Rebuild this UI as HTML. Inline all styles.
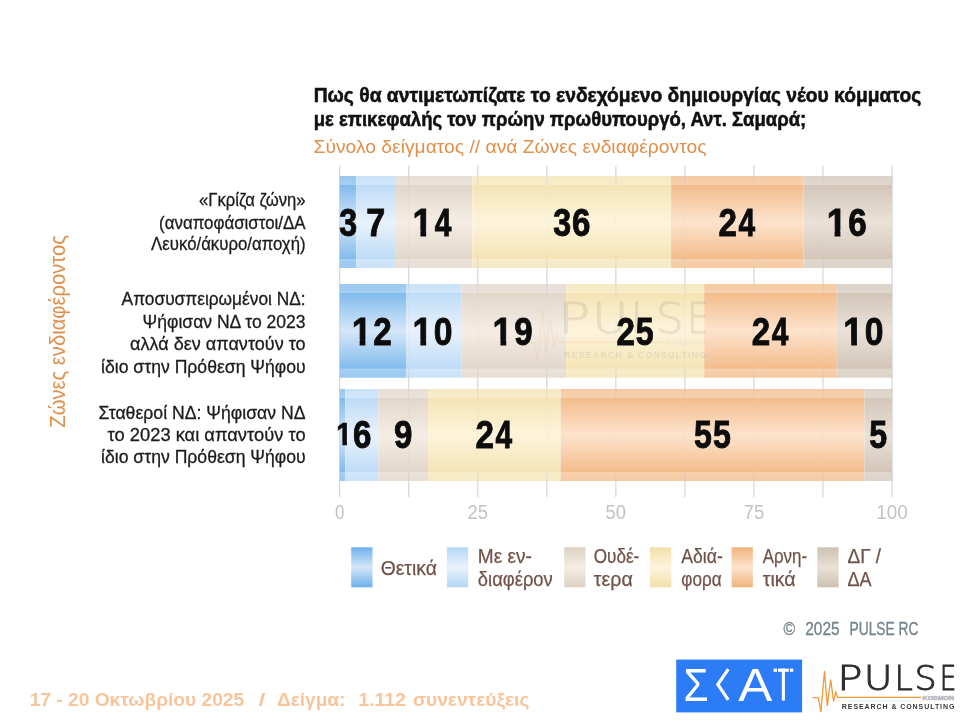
<!DOCTYPE html>
<html lang="el"><head><meta charset="utf-8"><title>PULSE RC</title>
<style>html,body{margin:0;padding:0;background:#fff}body{width:973px;height:728px;overflow:hidden}svg{display:block}text{font-family:"Liberation Sans",sans-serif}.b{font-weight:bold}.lg{font-family:"DejaVu Sans Light","DejaVu Sans",sans-serif;font-weight:200}</style></head><body>
<svg width="973" height="728" viewBox="0 0 973 728">
<defs>
<linearGradient id="g0" x1="0" y1="0" x2="0" y2="1"><stop offset="0" stop-color="#6cb0ea"/><stop offset="0.5" stop-color="#d6e7f8"/><stop offset="1" stop-color="#6cb0ea"/></linearGradient>
<linearGradient id="g1" x1="0" y1="0" x2="0" y2="1"><stop offset="0" stop-color="#b3d6f5"/><stop offset="0.5" stop-color="#e9f2fc"/><stop offset="1" stop-color="#b3d6f5"/></linearGradient>
<linearGradient id="g2" x1="0" y1="0" x2="0" y2="1"><stop offset="0" stop-color="#ddd1c4"/><stop offset="0.5" stop-color="#f5ede4"/><stop offset="1" stop-color="#ddd1c4"/></linearGradient>
<linearGradient id="g3" x1="0" y1="0" x2="0" y2="1"><stop offset="0" stop-color="#f2e0ab"/><stop offset="0.5" stop-color="#fdf4dc"/><stop offset="1" stop-color="#f2e0ab"/></linearGradient>
<linearGradient id="g4" x1="0" y1="0" x2="0" y2="1"><stop offset="0" stop-color="#f1b37c"/><stop offset="0.5" stop-color="#fde3cd"/><stop offset="1" stop-color="#f1b37c"/></linearGradient>
<linearGradient id="g5" x1="0" y1="0" x2="0" y2="1"><stop offset="0" stop-color="#cdc0b2"/><stop offset="0.5" stop-color="#eae1d7"/><stop offset="1" stop-color="#cdc0b2"/></linearGradient>
<g id="pulse">
<polyline fill="none" stroke="#f09a3a" stroke-width="1.3" stroke-linejoin="miter" points="-29.2,33.5 -23.4,33.7 -20.9,47.9 -17.3,6.9 -14.5,41.7 -11.1,15.4 -8.2,37.2 -6,27.9 -4.2,33.2 79.6,33.2"/>
<text y="25.6" font-size="34.4" class="lg" fill="#2d2d2f" stroke="#2d2d2f" stroke-width="0.9"><tspan x="-4.67" textLength="25.3" lengthAdjust="spacingAndGlyphs">P</tspan><tspan x="22.05" textLength="28.8" lengthAdjust="spacingAndGlyphs">U</tspan><tspan x="52.63" textLength="18.35" lengthAdjust="spacingAndGlyphs">L</tspan><tspan x="72.75" textLength="22.15" lengthAdjust="spacingAndGlyphs">S</tspan><tspan x="97.84" textLength="16.66" lengthAdjust="spacingAndGlyphs">E</tspan></text>
<text x="80.8" y="35.6" font-size="5.6" fill="#b4b7be" stroke="#b4b7be" stroke-width="0.5" class="b" textLength="31.5" lengthAdjust="spacingAndGlyphs">KOSMON</text>
<text x="0" y="45.2" font-size="7" fill="#3a3a3c" class="b" textLength="112.6" lengthAdjust="spacing">RESEARCH &amp; CONSULTING</text>
</g>
<clipPath id="c1"><path d="M-5,-45H60V6H20.5V-5.3H13.62V3H7.93V-5.3H-5Z"/></clipPath>
</defs>
<rect width="973" height="728" fill="#fff"/>
<text x="313.7" y="102" font-size="20.3" fill="#111" text-anchor="start" class="b" textLength="607.5" lengthAdjust="spacingAndGlyphs" stroke="#111" stroke-width="0.55">Πως θα αντιμετωπίζατε το ενδεχόμενο δημιουργίας νέου κόμματος</text>
<text x="313.7" y="125.8" font-size="20.3" fill="#111" text-anchor="start" class="b" textLength="492.5" lengthAdjust="spacingAndGlyphs" stroke="#111" stroke-width="0.55">με επικεφαλής τον πρώην πρωθυπουργό, Αντ. Σαμαρά;</text>
<text x="313.5" y="153.3" font-size="19" fill="#e0904a" text-anchor="start" textLength="393" lengthAdjust="spacingAndGlyphs">Σύνολο δείγματος // ανά Ζώνες ενδιαφέροντος</text>
<rect x="339.05" y="165.5" width="1.3" height="331.5" fill="#d7d9dc"/>
<rect x="408.09" y="165.5" width="1.3" height="331.5" fill="#d7d9dc"/>
<rect x="477.12" y="165.5" width="1.3" height="331.5" fill="#d7d9dc"/>
<rect x="546.16" y="165.5" width="1.3" height="331.5" fill="#d7d9dc"/>
<rect x="615.20" y="165.5" width="1.3" height="331.5" fill="#d7d9dc"/>
<rect x="684.24" y="165.5" width="1.3" height="331.5" fill="#d7d9dc"/>
<rect x="753.27" y="165.5" width="1.3" height="331.5" fill="#d7d9dc"/>
<rect x="822.31" y="165.5" width="1.3" height="331.5" fill="#d7d9dc"/>
<rect x="891.35" y="165.5" width="1.3" height="331.5" fill="#d7d9dc"/>
<rect x="339.70" y="176.0" width="16.57" height="92.0" fill="url(#g0)"/>
<rect x="356.27" y="176.0" width="38.66" height="92.0" fill="url(#g1)"/>
<rect x="394.93" y="176.0" width="77.32" height="92.0" fill="url(#g2)"/>
<rect x="472.25" y="176.0" width="198.83" height="92.0" fill="url(#g3)"/>
<rect x="671.08" y="176.0" width="132.55" height="92.0" fill="url(#g4)"/>
<rect x="803.63" y="176.0" width="88.37" height="92.0" fill="url(#g5)"/>
<rect x="339.7" y="176.0" width="552.3" height="9" fill="#fff" fill-opacity="0.3"/>
<rect x="339.7" y="259.0" width="552.3" height="9" fill="#fff" fill-opacity="0.3"/>
<rect x="339.70" y="284.0" width="66.28" height="93.6" fill="url(#g0)"/>
<rect x="405.98" y="284.0" width="55.23" height="93.6" fill="url(#g1)"/>
<rect x="461.21" y="284.0" width="104.94" height="93.6" fill="url(#g2)"/>
<rect x="566.14" y="284.0" width="138.07" height="93.6" fill="url(#g3)"/>
<rect x="704.22" y="284.0" width="132.55" height="93.6" fill="url(#g4)"/>
<rect x="836.77" y="284.0" width="55.23" height="93.6" fill="url(#g5)"/>
<rect x="339.7" y="284.0" width="552.3" height="9" fill="#fff" fill-opacity="0.3"/>
<rect x="339.7" y="368.6" width="552.3" height="9" fill="#fff" fill-opacity="0.3"/>
<rect x="339.70" y="389.0" width="5.52" height="92.0" fill="url(#g0)"/>
<rect x="345.22" y="389.0" width="33.14" height="92.0" fill="url(#g1)"/>
<rect x="378.36" y="389.0" width="49.71" height="92.0" fill="url(#g2)"/>
<rect x="428.07" y="389.0" width="132.55" height="92.0" fill="url(#g3)"/>
<rect x="560.62" y="389.0" width="303.76" height="92.0" fill="url(#g4)"/>
<rect x="864.38" y="389.0" width="27.62" height="92.0" fill="url(#g5)"/>
<rect x="339.7" y="389.0" width="552.3" height="9" fill="#fff" fill-opacity="0.3"/>
<rect x="339.7" y="472.0" width="552.3" height="9" fill="#fff" fill-opacity="0.3"/>
<rect x="339.05" y="176.0" width="1.3" height="92.0" fill="#c4c8d0" fill-opacity="0.09"/>
<rect x="339.05" y="176.0" width="1.3" height="9" fill="#c4c8d0" fill-opacity="0.26"/>
<rect x="339.05" y="259.0" width="1.3" height="9" fill="#c4c8d0" fill-opacity="0.26"/>
<rect x="339.05" y="284.0" width="1.3" height="93.6" fill="#c4c8d0" fill-opacity="0.09"/>
<rect x="339.05" y="284.0" width="1.3" height="9" fill="#c4c8d0" fill-opacity="0.26"/>
<rect x="339.05" y="368.6" width="1.3" height="9" fill="#c4c8d0" fill-opacity="0.26"/>
<rect x="339.05" y="389.0" width="1.3" height="92.0" fill="#c4c8d0" fill-opacity="0.09"/>
<rect x="339.05" y="389.0" width="1.3" height="9" fill="#c4c8d0" fill-opacity="0.26"/>
<rect x="339.05" y="472.0" width="1.3" height="9" fill="#c4c8d0" fill-opacity="0.26"/>
<rect x="408.09" y="176.0" width="1.3" height="92.0" fill="#c4c8d0" fill-opacity="0.09"/>
<rect x="408.09" y="176.0" width="1.3" height="9" fill="#c4c8d0" fill-opacity="0.26"/>
<rect x="408.09" y="259.0" width="1.3" height="9" fill="#c4c8d0" fill-opacity="0.26"/>
<rect x="408.09" y="284.0" width="1.3" height="93.6" fill="#c4c8d0" fill-opacity="0.09"/>
<rect x="408.09" y="284.0" width="1.3" height="9" fill="#c4c8d0" fill-opacity="0.26"/>
<rect x="408.09" y="368.6" width="1.3" height="9" fill="#c4c8d0" fill-opacity="0.26"/>
<rect x="408.09" y="389.0" width="1.3" height="92.0" fill="#c4c8d0" fill-opacity="0.09"/>
<rect x="408.09" y="389.0" width="1.3" height="9" fill="#c4c8d0" fill-opacity="0.26"/>
<rect x="408.09" y="472.0" width="1.3" height="9" fill="#c4c8d0" fill-opacity="0.26"/>
<rect x="477.12" y="176.0" width="1.3" height="92.0" fill="#c4c8d0" fill-opacity="0.09"/>
<rect x="477.12" y="176.0" width="1.3" height="9" fill="#c4c8d0" fill-opacity="0.26"/>
<rect x="477.12" y="259.0" width="1.3" height="9" fill="#c4c8d0" fill-opacity="0.26"/>
<rect x="477.12" y="284.0" width="1.3" height="93.6" fill="#c4c8d0" fill-opacity="0.09"/>
<rect x="477.12" y="284.0" width="1.3" height="9" fill="#c4c8d0" fill-opacity="0.26"/>
<rect x="477.12" y="368.6" width="1.3" height="9" fill="#c4c8d0" fill-opacity="0.26"/>
<rect x="477.12" y="389.0" width="1.3" height="92.0" fill="#c4c8d0" fill-opacity="0.09"/>
<rect x="477.12" y="389.0" width="1.3" height="9" fill="#c4c8d0" fill-opacity="0.26"/>
<rect x="477.12" y="472.0" width="1.3" height="9" fill="#c4c8d0" fill-opacity="0.26"/>
<rect x="546.16" y="176.0" width="1.3" height="92.0" fill="#c4c8d0" fill-opacity="0.09"/>
<rect x="546.16" y="176.0" width="1.3" height="9" fill="#c4c8d0" fill-opacity="0.26"/>
<rect x="546.16" y="259.0" width="1.3" height="9" fill="#c4c8d0" fill-opacity="0.26"/>
<rect x="546.16" y="284.0" width="1.3" height="93.6" fill="#c4c8d0" fill-opacity="0.09"/>
<rect x="546.16" y="284.0" width="1.3" height="9" fill="#c4c8d0" fill-opacity="0.26"/>
<rect x="546.16" y="368.6" width="1.3" height="9" fill="#c4c8d0" fill-opacity="0.26"/>
<rect x="546.16" y="389.0" width="1.3" height="92.0" fill="#c4c8d0" fill-opacity="0.09"/>
<rect x="546.16" y="389.0" width="1.3" height="9" fill="#c4c8d0" fill-opacity="0.26"/>
<rect x="546.16" y="472.0" width="1.3" height="9" fill="#c4c8d0" fill-opacity="0.26"/>
<rect x="615.20" y="176.0" width="1.3" height="92.0" fill="#c4c8d0" fill-opacity="0.09"/>
<rect x="615.20" y="176.0" width="1.3" height="9" fill="#c4c8d0" fill-opacity="0.26"/>
<rect x="615.20" y="259.0" width="1.3" height="9" fill="#c4c8d0" fill-opacity="0.26"/>
<rect x="615.20" y="284.0" width="1.3" height="93.6" fill="#c4c8d0" fill-opacity="0.09"/>
<rect x="615.20" y="284.0" width="1.3" height="9" fill="#c4c8d0" fill-opacity="0.26"/>
<rect x="615.20" y="368.6" width="1.3" height="9" fill="#c4c8d0" fill-opacity="0.26"/>
<rect x="615.20" y="389.0" width="1.3" height="92.0" fill="#c4c8d0" fill-opacity="0.09"/>
<rect x="615.20" y="389.0" width="1.3" height="9" fill="#c4c8d0" fill-opacity="0.26"/>
<rect x="615.20" y="472.0" width="1.3" height="9" fill="#c4c8d0" fill-opacity="0.26"/>
<rect x="684.24" y="176.0" width="1.3" height="92.0" fill="#c4c8d0" fill-opacity="0.09"/>
<rect x="684.24" y="176.0" width="1.3" height="9" fill="#c4c8d0" fill-opacity="0.26"/>
<rect x="684.24" y="259.0" width="1.3" height="9" fill="#c4c8d0" fill-opacity="0.26"/>
<rect x="684.24" y="284.0" width="1.3" height="93.6" fill="#c4c8d0" fill-opacity="0.09"/>
<rect x="684.24" y="284.0" width="1.3" height="9" fill="#c4c8d0" fill-opacity="0.26"/>
<rect x="684.24" y="368.6" width="1.3" height="9" fill="#c4c8d0" fill-opacity="0.26"/>
<rect x="684.24" y="389.0" width="1.3" height="92.0" fill="#c4c8d0" fill-opacity="0.09"/>
<rect x="684.24" y="389.0" width="1.3" height="9" fill="#c4c8d0" fill-opacity="0.26"/>
<rect x="684.24" y="472.0" width="1.3" height="9" fill="#c4c8d0" fill-opacity="0.26"/>
<rect x="753.27" y="176.0" width="1.3" height="92.0" fill="#c4c8d0" fill-opacity="0.09"/>
<rect x="753.27" y="176.0" width="1.3" height="9" fill="#c4c8d0" fill-opacity="0.26"/>
<rect x="753.27" y="259.0" width="1.3" height="9" fill="#c4c8d0" fill-opacity="0.26"/>
<rect x="753.27" y="284.0" width="1.3" height="93.6" fill="#c4c8d0" fill-opacity="0.09"/>
<rect x="753.27" y="284.0" width="1.3" height="9" fill="#c4c8d0" fill-opacity="0.26"/>
<rect x="753.27" y="368.6" width="1.3" height="9" fill="#c4c8d0" fill-opacity="0.26"/>
<rect x="753.27" y="389.0" width="1.3" height="92.0" fill="#c4c8d0" fill-opacity="0.09"/>
<rect x="753.27" y="389.0" width="1.3" height="9" fill="#c4c8d0" fill-opacity="0.26"/>
<rect x="753.27" y="472.0" width="1.3" height="9" fill="#c4c8d0" fill-opacity="0.26"/>
<rect x="822.31" y="176.0" width="1.3" height="92.0" fill="#c4c8d0" fill-opacity="0.09"/>
<rect x="822.31" y="176.0" width="1.3" height="9" fill="#c4c8d0" fill-opacity="0.26"/>
<rect x="822.31" y="259.0" width="1.3" height="9" fill="#c4c8d0" fill-opacity="0.26"/>
<rect x="822.31" y="284.0" width="1.3" height="93.6" fill="#c4c8d0" fill-opacity="0.09"/>
<rect x="822.31" y="284.0" width="1.3" height="9" fill="#c4c8d0" fill-opacity="0.26"/>
<rect x="822.31" y="368.6" width="1.3" height="9" fill="#c4c8d0" fill-opacity="0.26"/>
<rect x="822.31" y="389.0" width="1.3" height="92.0" fill="#c4c8d0" fill-opacity="0.09"/>
<rect x="822.31" y="389.0" width="1.3" height="9" fill="#c4c8d0" fill-opacity="0.26"/>
<rect x="822.31" y="472.0" width="1.3" height="9" fill="#c4c8d0" fill-opacity="0.26"/>
<rect x="891.35" y="176.0" width="1.3" height="92.0" fill="#c4c8d0" fill-opacity="0.09"/>
<rect x="891.35" y="176.0" width="1.3" height="9" fill="#c4c8d0" fill-opacity="0.26"/>
<rect x="891.35" y="259.0" width="1.3" height="9" fill="#c4c8d0" fill-opacity="0.26"/>
<rect x="891.35" y="284.0" width="1.3" height="93.6" fill="#c4c8d0" fill-opacity="0.09"/>
<rect x="891.35" y="284.0" width="1.3" height="9" fill="#c4c8d0" fill-opacity="0.26"/>
<rect x="891.35" y="368.6" width="1.3" height="9" fill="#c4c8d0" fill-opacity="0.26"/>
<rect x="891.35" y="389.0" width="1.3" height="92.0" fill="#c4c8d0" fill-opacity="0.09"/>
<rect x="891.35" y="389.0" width="1.3" height="9" fill="#c4c8d0" fill-opacity="0.26"/>
<rect x="891.35" y="472.0" width="1.3" height="9" fill="#c4c8d0" fill-opacity="0.26"/>
<use href="#pulse" transform="translate(564.2,300.6) scale(1.26)" opacity="0.09"/>
<text transform="translate(339.25,235.70)" font-size="39" fill="#0c0c0c" stroke="#0c0c0c" stroke-width="0.9" class="b"><tspan x="0.00" textLength="17.90" lengthAdjust="spacingAndGlyphs">3</tspan></text>
<text transform="translate(366.13,235.70)" font-size="39" fill="#0c0c0c" stroke="#0c0c0c" stroke-width="0.9" class="b"><tspan x="0.00" textLength="18.96" lengthAdjust="spacingAndGlyphs">7</tspan></text>
<text transform="translate(412.50,235.70)" font-size="39" fill="#0c0c0c" stroke="#0c0c0c" stroke-width="0.9" class="b" clip-path="url(#c1)"><tspan x="0.00" textLength="19.87" lengthAdjust="spacingAndGlyphs">1</tspan><tspan x="22.24" textLength="16.61" lengthAdjust="spacingAndGlyphs">4</tspan></text>
<text transform="translate(553.33,235.70)" font-size="39" fill="#0c0c0c" stroke="#0c0c0c" stroke-width="0.9" class="b"><tspan x="0.00" textLength="17.90" lengthAdjust="spacingAndGlyphs">3</tspan><tspan x="18.73" textLength="18.41" lengthAdjust="spacingAndGlyphs">6</tspan></text>
<text transform="translate(718.60,235.70)" font-size="39" fill="#0c0c0c" stroke="#0c0c0c" stroke-width="0.9" class="b"><tspan x="0.00" textLength="18.48" lengthAdjust="spacingAndGlyphs">2</tspan><tspan x="19.90" textLength="16.61" lengthAdjust="spacingAndGlyphs">4</tspan></text>
<text transform="translate(826.72,235.70)" font-size="39" fill="#0c0c0c" stroke="#0c0c0c" stroke-width="0.9" class="b" clip-path="url(#c1)"><tspan x="0.00" textLength="19.87" lengthAdjust="spacingAndGlyphs">1</tspan><tspan x="21.48" textLength="18.41" lengthAdjust="spacingAndGlyphs">6</tspan></text>
<text transform="translate(351.75,344.70)" font-size="39" fill="#0c0c0c" stroke="#0c0c0c" stroke-width="0.9" class="b" clip-path="url(#c1)"><tspan x="0.00" textLength="19.87" lengthAdjust="spacingAndGlyphs">1</tspan><tspan x="21.54" textLength="18.48" lengthAdjust="spacingAndGlyphs">2</tspan></text>
<text transform="translate(412.50,344.70)" font-size="39" fill="#0c0c0c" stroke="#0c0c0c" stroke-width="0.9" class="b" clip-path="url(#c1)"><tspan x="0.00" textLength="19.87" lengthAdjust="spacingAndGlyphs">1</tspan><tspan x="21.36" textLength="18.71" lengthAdjust="spacingAndGlyphs">0</tspan></text>
<text transform="translate(492.58,344.70)" font-size="39" fill="#0c0c0c" stroke="#0c0c0c" stroke-width="0.9" class="b" clip-path="url(#c1)"><tspan x="0.00" textLength="19.87" lengthAdjust="spacingAndGlyphs">1</tspan><tspan x="21.55" textLength="18.37" lengthAdjust="spacingAndGlyphs">9</tspan></text>
<text transform="translate(616.43,344.70)" font-size="39" fill="#0c0c0c" stroke="#0c0c0c" stroke-width="0.9" class="b"><tspan x="0.00" textLength="18.48" lengthAdjust="spacingAndGlyphs">2</tspan><tspan x="19.36" textLength="17.88" lengthAdjust="spacingAndGlyphs">5</tspan></text>
<text transform="translate(751.74,344.70)" font-size="39" fill="#0c0c0c" stroke="#0c0c0c" stroke-width="0.9" class="b"><tspan x="0.00" textLength="18.48" lengthAdjust="spacingAndGlyphs">2</tspan><tspan x="19.90" textLength="16.61" lengthAdjust="spacingAndGlyphs">4</tspan></text>
<text transform="translate(843.29,344.70)" font-size="39" fill="#0c0c0c" stroke="#0c0c0c" stroke-width="0.9" class="b" clip-path="url(#c1)"><tspan x="0.00" textLength="19.87" lengthAdjust="spacingAndGlyphs">1</tspan><tspan x="21.36" textLength="18.71" lengthAdjust="spacingAndGlyphs">0</tspan></text>
<text transform="translate(336.27,445.05) scale(0.7821)" font-size="39" fill="#0c0c0c" stroke="#0c0c0c" stroke-width="0.9" class="b" clip-path="url(#c1)"><tspan x="0.00" textLength="19.87" lengthAdjust="spacingAndGlyphs">1</tspan></text>
<text transform="translate(352.88,448.00)" font-size="39" fill="#0c0c0c" stroke="#0c0c0c" stroke-width="0.9" class="b"><tspan x="0.00" textLength="18.41" lengthAdjust="spacingAndGlyphs">6</tspan></text>
<text transform="translate(394.07,448.00)" font-size="39" fill="#0c0c0c" stroke="#0c0c0c" stroke-width="0.9" class="b"><tspan x="0.00" textLength="18.37" lengthAdjust="spacingAndGlyphs">9</tspan></text>
<text transform="translate(475.59,448.00)" font-size="39" fill="#0c0c0c" stroke="#0c0c0c" stroke-width="0.9" class="b"><tspan x="0.00" textLength="18.48" lengthAdjust="spacingAndGlyphs">2</tspan><tspan x="19.90" textLength="16.61" lengthAdjust="spacingAndGlyphs">4</tspan></text>
<text transform="translate(693.91,448.00)" font-size="39" fill="#0c0c0c" stroke="#0c0c0c" stroke-width="0.9" class="b"><tspan x="0.00" textLength="17.88" lengthAdjust="spacingAndGlyphs">5</tspan><tspan x="19.20" textLength="17.88" lengthAdjust="spacingAndGlyphs">5</tspan></text>
<text transform="translate(869.20,448.00)" font-size="39" fill="#0c0c0c" stroke="#0c0c0c" stroke-width="0.9" class="b"><tspan x="0.00" textLength="17.88" lengthAdjust="spacingAndGlyphs">5</tspan></text>
<text x="339.7" y="519" font-size="19.4" fill="#c3c3c3" text-anchor="middle" textLength="9.5" lengthAdjust="spacingAndGlyphs">0</text>
<text x="477.8" y="519" font-size="19.4" fill="#c3c3c3" text-anchor="middle" textLength="20.4" lengthAdjust="spacingAndGlyphs">25</text>
<text x="615.8" y="519" font-size="19.4" fill="#c3c3c3" text-anchor="middle" textLength="20.4" lengthAdjust="spacingAndGlyphs">50</text>
<text x="753.9" y="519" font-size="19.4" fill="#c3c3c3" text-anchor="middle" textLength="20.4" lengthAdjust="spacingAndGlyphs">75</text>
<text x="892.0" y="519" font-size="19.4" fill="#c3c3c3" text-anchor="middle" textLength="31.5" lengthAdjust="spacingAndGlyphs">100</text>
<text x="305.6" y="205.89999999999998" font-size="18.8" fill="#1c1c1c" text-anchor="end" textLength="106.5" lengthAdjust="spacingAndGlyphs" stroke="#1c1c1c" stroke-width="0.3">«Γκρίζα ζώνη»</text>
<text x="305.6" y="228.6" font-size="18.8" fill="#1c1c1c" text-anchor="end" textLength="146.5" lengthAdjust="spacingAndGlyphs" stroke="#1c1c1c" stroke-width="0.3">(αναποφάσιστοι/ΔΑ</text>
<text x="305.6" y="250.29999999999998" font-size="18.8" fill="#1c1c1c" text-anchor="end" textLength="154.5" lengthAdjust="spacingAndGlyphs" stroke="#1c1c1c" stroke-width="0.3">Λευκό/άκυρο/αποχή)</text>
<text x="305.6" y="304.9" font-size="18.8" fill="#1c1c1c" text-anchor="end" textLength="184" lengthAdjust="spacingAndGlyphs" stroke="#1c1c1c" stroke-width="0.3">Αποσυσπειρωμένοι ΝΔ:</text>
<text x="305.6" y="327.5" font-size="18.8" fill="#1c1c1c" text-anchor="end" textLength="163" lengthAdjust="spacingAndGlyphs" stroke="#1c1c1c" stroke-width="0.3">Ψήφισαν ΝΔ το 2023</text>
<text x="305.6" y="350.2" font-size="18.8" fill="#1c1c1c" text-anchor="end" textLength="175.5" lengthAdjust="spacingAndGlyphs" stroke="#1c1c1c" stroke-width="0.3">αλλά δεν απαντούν το</text>
<text x="305.6" y="372.8" font-size="18.8" fill="#1c1c1c" text-anchor="end" textLength="204.5" lengthAdjust="spacingAndGlyphs" stroke="#1c1c1c" stroke-width="0.3">ίδιο στην Πρόθεση Ψήφου</text>
<text x="305.6" y="418.59999999999997" font-size="18.8" fill="#1c1c1c" text-anchor="end" textLength="207" lengthAdjust="spacingAndGlyphs" stroke="#1c1c1c" stroke-width="0.3">Σταθεροί ΝΔ: Ψήφισαν ΝΔ</text>
<text x="305.6" y="441.2" font-size="18.8" fill="#1c1c1c" text-anchor="end" textLength="198" lengthAdjust="spacingAndGlyphs" stroke="#1c1c1c" stroke-width="0.3">το 2023 και απαντούν το</text>
<text x="305.6" y="462.9" font-size="18.8" fill="#1c1c1c" text-anchor="end" textLength="204.5" lengthAdjust="spacingAndGlyphs" stroke="#1c1c1c" stroke-width="0.3">ίδιο στην Πρόθεση Ψήφου</text>
<text transform="translate(65.3,331.4) rotate(-90)" font-size="21.6" fill="#e0904a" text-anchor="middle" textLength="192.6" lengthAdjust="spacingAndGlyphs">Ζώνες ενδιαφέροντος</text>
<rect x="351.2" y="547.3" width="21.3" height="40" fill="url(#g0)"/>
<text x="380.8" y="574.8" font-size="20.3" fill="#70514a" text-anchor="start" textLength="56" lengthAdjust="spacingAndGlyphs" stroke="#70514a" stroke-width="0.25">Θετικά</text>
<rect x="446.9" y="547.3" width="21.3" height="40" fill="url(#g1)"/>
<text x="477.8" y="563.3" font-size="20.3" fill="#70514a" text-anchor="start" textLength="54" lengthAdjust="spacingAndGlyphs" stroke="#70514a" stroke-width="0.25">Με εν-</text>
<text x="477.8" y="585.8" font-size="20.3" fill="#70514a" text-anchor="start" textLength="75" lengthAdjust="spacingAndGlyphs" stroke="#70514a" stroke-width="0.25">διαφέρον</text>
<rect x="564.2" y="547.3" width="21.3" height="40" fill="url(#g2)"/>
<text x="593.8" y="563.3" font-size="20.3" fill="#70514a" text-anchor="start" textLength="45.5" lengthAdjust="spacingAndGlyphs" stroke="#70514a" stroke-width="0.25">Ουδέ-</text>
<text x="593.8" y="585.8" font-size="20.3" fill="#70514a" text-anchor="start" textLength="39" lengthAdjust="spacingAndGlyphs" stroke="#70514a" stroke-width="0.25">τερα</text>
<rect x="650" y="547.3" width="21.3" height="40" fill="url(#g3)"/>
<text x="681.3" y="563.3" font-size="20.3" fill="#70514a" text-anchor="start" textLength="41.5" lengthAdjust="spacingAndGlyphs" stroke="#70514a" stroke-width="0.25">Αδιά-</text>
<text x="681.3" y="585.8" font-size="20.3" fill="#70514a" text-anchor="start" textLength="40.4" lengthAdjust="spacingAndGlyphs" stroke="#70514a" stroke-width="0.25">φορα</text>
<rect x="731.6" y="547.3" width="21.3" height="40" fill="url(#g4)"/>
<text x="762.7" y="563.3" font-size="20.3" fill="#70514a" text-anchor="start" textLength="44.4" lengthAdjust="spacingAndGlyphs" stroke="#70514a" stroke-width="0.25">Αρνη-</text>
<text x="762.7" y="585.8" font-size="20.3" fill="#70514a" text-anchor="start" textLength="33" lengthAdjust="spacingAndGlyphs" stroke="#70514a" stroke-width="0.25">τικά</text>
<rect x="817.3" y="547.3" width="21.3" height="40" fill="url(#g5)"/>
<text x="847.5" y="563.3" font-size="20.3" fill="#70514a" text-anchor="start" textLength="33.6" lengthAdjust="spacingAndGlyphs" stroke="#70514a" stroke-width="0.25">ΔΓ /</text>
<text x="847.5" y="585.8" font-size="20.3" fill="#70514a" text-anchor="start" textLength="24" lengthAdjust="spacingAndGlyphs" stroke="#70514a" stroke-width="0.25">ΔΑ</text>
<text y="635.4" font-size="17.6" fill="#72808a" stroke="#72808a" stroke-width="0.3"><tspan x="783.6" textLength="11.6" lengthAdjust="spacingAndGlyphs">©</tspan><tspan x="805.2" textLength="34.4" lengthAdjust="spacingAndGlyphs">2025</tspan><tspan x="849.6" textLength="68.8" lengthAdjust="spacingAndGlyphs">PULSE RC</tspan></text>
<text y="705.5" font-size="18.2" fill="#f8c59b" class="b"><tspan x="29.7" textLength="214.5" lengthAdjust="spacingAndGlyphs">17 - 20 Οκτωβρίου 2025</tspan><tspan x="258.6" textLength="7" lengthAdjust="spacingAndGlyphs">/</tspan><tspan x="276.9" textLength="68.6" lengthAdjust="spacingAndGlyphs">Δείγμα:</tspan><tspan x="358.2" textLength="47.8" lengthAdjust="spacingAndGlyphs">1.112</tspan><tspan x="412.9" textLength="116.5" lengthAdjust="spacingAndGlyphs">συνεντεύξεις</tspan></text>
<g><title>ΣΚΑΪ</title><rect x="676.2" y="659.6" width="125.9" height="52.8" fill="#2b7cf6"/>
<text x="683.6" y="700.6" font-size="46.6" fill="#fff" textLength="25" lengthAdjust="spacingAndGlyphs">Σ</text>
<polyline points="728.3,669.2 717.8,684.5 728.3,699.9" fill="none" stroke="#fff" stroke-width="3.2"/>
<text x="738.2" y="700.6" font-size="46.6" fill="#fff" textLength="34" lengthAdjust="spacingAndGlyphs">Α</text>
<rect x="773.6" y="668.6" width="3.4" height="3.2" fill="#fff"/><rect x="778" y="668.6" width="10.8" height="3.2" fill="#fff"/><rect x="789.9" y="668.6" width="3.4" height="3.2" fill="#fff"/><rect x="781.8" y="668.6" width="3.1" height="32" fill="#fff"/>
</g>
<g><title>PULSE Research &amp; Consulting</title><use href="#pulse" transform="translate(841.8,664.2)"/></g>
</svg></body></html>
